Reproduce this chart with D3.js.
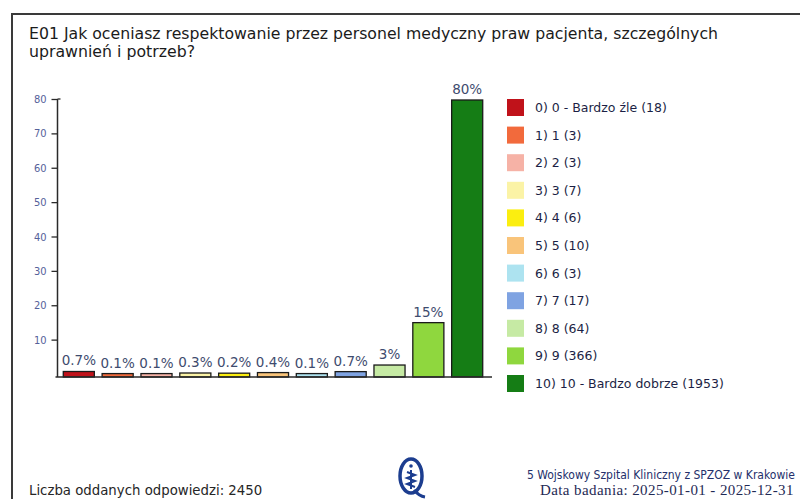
<!DOCTYPE html>
<html>
  <head>
    <meta charset="utf-8">
    <title>E01</title>
    <style>
        body { margin: 0; background: #fff; }
        svg text { font-family: "DejaVu Sans", sans-serif; }
        .frame { stroke: #3a3a3a; stroke-width: 2px; fill: none; }
        .title { font-size: 15.5px; fill: #1b1b1b; }
        .bar { stroke: #1a1a1a; stroke-width: 1.3px; }
        .bar-label { font-size: 13.5px; fill: #3e4b6e; text-anchor: middle; }
        .legend-text { font-size: 12.5px; fill: #1c1f45; }
    </style>
  </head>
  <body>
    <script src="https://d3js.org/d3.v7.min.js"></script>
    <script>
        // answers (legend), counts, percentages
        var categories = ["0) 0 - Bardzo źle", "1) 1", "2) 2", "3) 3", "4) 4", "5) 5",
                          "6) 6", "7) 7", "8) 8", "9) 9", "10) 10 - Bardzo dobrze"];
        var counts = [18, 3, 3, 7, 6, 10, 3, 17, 64, 366, 1953];
        var percents = [0.73, 0.12, 0.12, 0.29, 0.24, 0.41, 0.12, 0.69, 2.61, 14.94, 79.71];
        var percentLabels = ["0.7%", "0.1%", "0.1%", "0.3%", "0.2%", "0.4%", "0.1%", "0.7%", "3%", "15%", "80%"];
        var colors = ["#c0121a", "#f26a3c", "#f6b2a6", "#fbf3a6", "#fbee10", "#f9c47a",
                      "#ade3f0", "#7fa3e2", "#c6eaa4", "#8fd73e", "#157d15"];
        var yTicks = [10, 20, 30, 40, 50, 60, 70, 80];

        var W = 800, H = 499;
        var svg = d3.select("body").append("svg")
            .attr("width", W)
            .attr("height", H);

        // frame (cut off on right / bottom like the scan)
        svg.append("path")
            .attr("class", "frame")
            .attr("d", "M12,500 L12,14 L800,14");

        // title
        var title = svg.append("text")
            .attr("class", "title");
        title.append("tspan").attr("x", 29).attr("y", 39)
            .attr("textLength", 689)
            .attr("lengthAdjust", "spacingAndGlyphs")
            .text("E01 Jak oceniasz respektowanie przez personel medyczny praw pacjenta, szczególnych");
        title.append("tspan").attr("x", 29).attr("y", 57)
            .attr("textLength", 166)
            .attr("lengthAdjust", "spacingAndGlyphs")
            .text("uprawnień i potrzeb?");

        // scales
        var x = d3.scaleBand()
            .domain(categories)
            .range([59.4, 486.6])
            .paddingInner(0.2)
            .paddingOuter(0.1);

        var y = d3.scaleLinear()
            .domain([0, 80])
            .range([374, 99]);

        var axisX = 57.5;
        var baseY = 377;

        // y axis
        var yAxis = svg.append("g")
            .attr("transform", "translate(" + axisX + ",0)")
            .call(d3.axisLeft(y).tickValues(yTicks).tickSize(6).tickPadding(5));
        yAxis.select(".domain").remove();
        yAxis.selectAll(".tick line").attr("stroke", "#2a2a2a").attr("stroke-width", 1.3);
        yAxis.selectAll(".tick text")
            .attr("fill", "#55619a")
            .style("font-family", "'DejaVu Sans Condensed', 'DejaVu Sans', sans-serif")
            .style("font-size", "11px");

        svg.append("line")
            .attr("x1", axisX).attr("x2", axisX)
            .attr("y1", y(80)).attr("y2", baseY)
            .attr("stroke", "#2a2a2a").attr("stroke-width", 1.5);
        svg.append("line")
            .attr("x1", axisX).attr("x2", axisX + 3)
            .attr("y1", y(80)).attr("y2", y(80))
            .attr("stroke", "#2a2a2a").attr("stroke-width", 1.3);

        // bars
        svg.append("g")
            .selectAll("rect")
            .data(categories)
            .enter()
            .append("rect")
              .attr("class", "bar")
              .attr("x", function (d) { return x(d); })
              .attr("y", function (d, i) { return y(percents[i]); })
              .attr("width", x.bandwidth())
              .attr("height", function (d, i) { return baseY - y(percents[i]); })
              .style("fill", function (d, i) { return colors[i]; });

        // x axis baseline
        svg.append("line")
            .attr("x1", axisX - 2).attr("x2", 492)
            .attr("y1", baseY).attr("y2", baseY)
            .attr("stroke", "#2a2a2a").attr("stroke-width", 1.6);

        // value labels
        svg.append("g")
            .selectAll("text")
            .data(categories)
            .enter()
            .append("text")
              .attr("class", "bar-label")
              .attr("x", function (d) { return x(d) + x.bandwidth() / 2; })
              .attr("y", function (d, i) { return y(percents[i]) - 6; })
              .text(function (d, i) { return percentLabels[i]; });

        // legend
        var legendY = d3.scalePoint()
            .domain(categories)
            .range([107.5, 383.5]);

        var legend = svg.append("g");
        legend.selectAll("rect")
            .data(categories)
            .enter()
            .append("rect")
              .attr("x", 507)
              .attr("y", function (d) { return legendY(d) - 8.5; })
              .attr("width", 17)
              .attr("height", 17)
              .style("fill", function (d, i) { return colors[i]; });

        legend.selectAll("text")
            .data(categories)
            .enter()
            .append("text")
              .attr("class", "legend-text")
              .attr("x", 535)
              .attr("y", function (d) { return legendY(d); })
              .attr("dy", "0.36em")
              .text(function (d, i) { return d + " (" + counts[i] + ")"; });

        // footer
        svg.append("text")
            .attr("x", 29)
            .attr("y", 495)
            .style("font-size", "13.3px")
            .style("fill", "#262626")
            .text("Liczba oddanych odpowiedzi: 2450");

        svg.append("text")
            .attr("x", 527)
            .attr("y", 479)
            .style("font-family", "'DejaVu Sans Condensed', 'DejaVu Sans', sans-serif")
            .style("font-size", "12px")
            .style("fill", "#24306b")
            .text("5 Wojskowy Szpital Kliniczny z SPZOZ w Krakowie");

        svg.append("text")
            .attr("x", 540)
            .attr("y", 495)
            .style("font-family", "'Liberation Serif', serif")
            .style("font-size", "15px")
            .style("letter-spacing", "0.4px")
            .style("fill", "#1f2a55")
            .text("Data badania: 2025-01-01 - 2025-12-31");

        // logo
        var logo = svg.append("g")
            .attr("transform", "translate(411,476)")
            .attr("fill", "none")
            .attr("stroke", "#1c3d8f");
        logo.append("ellipse")
            .attr("rx", 11).attr("ry", 17)
            .attr("stroke-width", 3.5);
        logo.append("path")
            .attr("d", "M3,14 Q8,20 14,21")
            .attr("stroke-width", 3);
        logo.append("circle")
            .attr("cx", 0).attr("cy", -10).attr("r", 1.8)
            .attr("fill", "#1c3d8f").attr("stroke", "none");
        logo.append("path")
            .attr("d", "M0,-6 L0,13 M-4,-4 L4,-1 L-4,2 L4,5 L-4,8 L4,11")
            .attr("stroke-width", 2);
    </script>
  </body>
</html>
